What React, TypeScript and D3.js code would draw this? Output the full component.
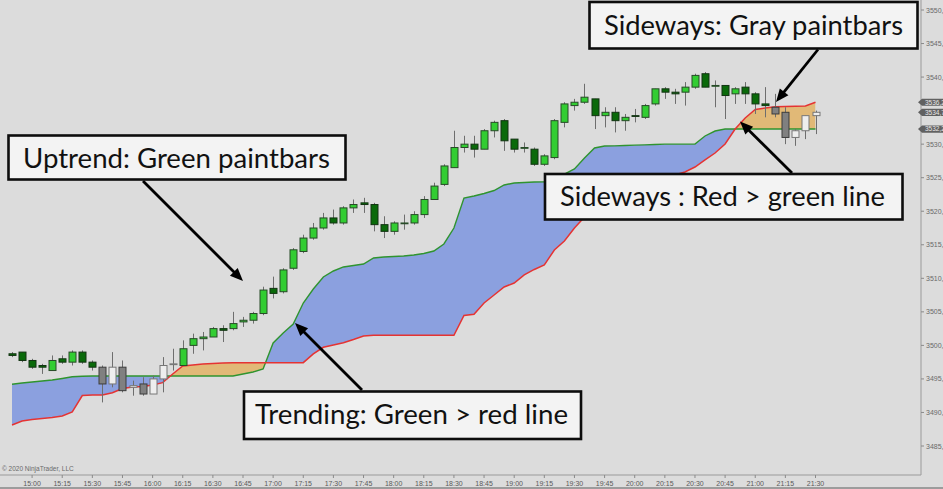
import React from "react";
import * as d3 from "d3";

const W = 943;
const H = 489;

const sessionStart = "14:50";

const barOpen = [
  3498.75, 3499.0, 3497.75, 3497.0, 3496.25, 3498.0, 3497.5, 3499.0, 3497.5, 3496.75,
  3494.25, 3496.75, 3493.75, 3494.25, 3492.75, 3495.0, 3497.25, 3497.0, 3500.0, 3501.0,
  3501.25, 3502.5, 3502.5, 3503.5, 3503.75, 3504.75, 3508.5, 3508.0, 3511.5, 3514.0,
  3516.0, 3517.5, 3519.0, 3518.25, 3520.5, 3521.25, 3521.0, 3518.0, 3517.0, 3518.25,
  3518.25, 3519.5, 3521.75, 3524.0, 3526.5, 3529.5, 3530.0, 3529.25, 3532.0, 3533.5,
  3530.75, 3529.5, 3529.25, 3527.0, 3528.0, 3533.25, 3535.75, 3536.25, 3536.75, 3534.25,
  3534.75, 3533.5, 3534.25, 3534.0, 3536.0, 3538.25, 3537.75, 3537.75, 3538.5, 3540.5,
  3538.75, 3538.75, 3537.5, 3538.5, 3537.5, 3536.0, 3535.5, 3534.75, 3531.0, 3532.0,
  3534.25,
];

const barHigh = [
  3499.0, 3499.0, 3498.0, 3497.25, 3498.5, 3498.5, 3499.25, 3499.25, 3497.75, 3497.0,
  3499.0, 3497.75, 3494.75, 3495.25, 3495.5, 3498.25, 3499.5, 3500.75, 3501.75, 3502.0,
  3502.75, 3503.0, 3505.0, 3504.25, 3505.0, 3508.75, 3510.25, 3511.5, 3514.5, 3516.5,
  3518.25, 3519.75, 3520.25, 3520.75, 3521.75, 3522.0, 3521.25, 3519.25, 3518.5, 3519.5,
  3520.0, 3522.25, 3524.25, 3527.0, 3532.0, 3531.25, 3531.25, 3532.25, 3533.5, 3533.75,
  3530.75, 3530.25, 3529.5, 3528.5, 3533.75, 3536.25, 3536.75, 3539.0, 3536.75, 3535.5,
  3535.5, 3534.5, 3535.25, 3536.0, 3538.25, 3538.5, 3538.25, 3539.25, 3540.5, 3540.75,
  3539.5, 3538.75, 3538.5, 3539.25, 3537.75, 3538.5, 3537.5, 3535.5, 3532.25, 3534.25,
  3535.0,
];

const barLow = [
  3498.25, 3497.5, 3496.5, 3495.75, 3496.25, 3497.25, 3497.0, 3497.25, 3496.25, 3491.5,
  3493.75, 3493.0, 3492.5, 3492.5, 3492.75, 3493.0, 3496.25, 3497.0, 3498.75, 3499.25,
  3501.25, 3500.5, 3502.25, 3502.75, 3503.25, 3504.5, 3507.0, 3507.75, 3511.25, 3513.75,
  3515.75, 3517.25, 3518.0, 3518.0, 3519.75, 3519.75, 3517.0, 3516.0, 3516.5, 3517.25,
  3518.0, 3519.0, 3521.75, 3523.75, 3526.5, 3528.75, 3528.0, 3529.25, 3531.0, 3529.0,
  3528.75, 3528.75, 3526.75, 3526.75, 3527.75, 3532.5, 3535.0, 3536.0, 3532.25, 3532.5,
  3531.75, 3532.0, 3533.25, 3533.75, 3535.75, 3536.75, 3536.0, 3535.75, 3538.25, 3538.5,
  3535.5, 3533.75, 3536.0, 3536.0, 3534.5, 3534.0, 3534.0, 3530.0, 3529.75, 3530.75,
  3531.5,
];

const barClose = [
  3498.5, 3497.75, 3496.75, 3496.75, 3497.75, 3497.5, 3499.0, 3497.5, 3496.75, 3494.25,
  3496.75, 3493.25, 3494.0, 3492.75, 3495.0, 3497.0, 3497.25, 3499.5, 3501.0, 3501.25,
  3502.5, 3502.25, 3503.25, 3503.75, 3504.75, 3508.25, 3507.75, 3511.25, 3514.25, 3516.0,
  3517.5, 3519.0, 3518.25, 3520.5, 3521.0, 3521.0, 3518.0, 3517.0, 3518.25, 3518.25,
  3519.5, 3521.75, 3523.75, 3526.75, 3529.5, 3530.0, 3529.25, 3532.0, 3533.25, 3530.5,
  3529.25, 3529.5, 3527.0, 3528.25, 3533.5, 3536.0, 3536.25, 3537.0, 3534.25, 3534.75,
  3533.5, 3534.0, 3534.25, 3535.75, 3538.25, 3537.75, 3537.5, 3538.5, 3540.25, 3538.5,
  3538.75, 3537.25, 3538.25, 3537.5, 3536.0, 3535.75, 3534.5, 3531.0, 3532.0, 3534.25,
  3534.75,
];

// paintbar state: up / dn = trending (green), sd / su = sideways (gray / white)
const barPaint = [
  "dn", "dn", "dn", "dn", "up", "dn", "up", "dn", "dn", "sd",
  "su", "sd", "su", "sd", "su", "su", "su", "up", "up", "up",
  "up", "dn", "up", "up", "up", "up", "dn", "up", "up", "up",
  "up", "up", "dn", "up", "up", "dn", "dn", "dn", "up", "up",
  "up", "up", "up", "up", "up", "up", "dn", "up", "up", "dn",
  "dn", "up", "dn", "up", "up", "up", "up", "up", "dn", "up",
  "dn", "up", "dn", "up", "up", "dn", "dn", "up", "up", "dn",
  "up", "dn", "up", "dn", "dn", "dn", "sd", "sd", "su", "su",
  "su",
];

const greenLine = [
  3494.2, 3494.39, 3494.54, 3494.69, 3494.84, 3495.07, 3495.33, 3495.39, 3495.44, 3495.44,
  3495.44, 3495.44, 3495.44, 3495.44, 3495.44, 3495.44, 3495.44, 3495.44, 3495.44, 3495.44,
  3495.44, 3495.44, 3495.44, 3495.74, 3496.03, 3496.48, 3500.36, 3501.85, 3503.19, 3506.32,
  3508.41, 3510.2, 3511.09, 3511.69, 3511.91, 3512.13, 3513.03, 3513.18, 3513.25, 3513.33,
  3513.48, 3513.7, 3514.07, 3515.12, 3517.5, 3521.97, 3522.27, 3522.64, 3523.09, 3523.91,
  3524.21, 3524.28, 3524.36, 3524.4, 3524.96, 3525.55, 3526.3, 3527.94, 3529.43, 3529.73,
  3529.75, 3529.8, 3529.85, 3529.9, 3529.95, 3530.0, 3530.0, 3530.0, 3530.0, 3531.22,
  3531.96, 3532.25, 3532.25, 3532.25, 3532.25, 3532.25, 3532.25, 3532.25, 3532.25, 3532.25,
  3532.25,
];

const redLine = [
  3488.13, 3488.73, 3488.95, 3489.1, 3489.25, 3489.48, 3490.07, 3492.53, 3492.61, 3492.61,
  3492.95, 3493.57, 3493.8, 3493.87, 3494.1, 3494.44, 3495.74, 3496.93, 3497.08, 3497.23,
  3497.3, 3497.38, 3497.42, 3497.42, 3497.42, 3497.42, 3497.42, 3497.42, 3497.42, 3497.42,
  3498.72, 3499.72, 3500.06, 3500.4, 3500.88, 3501.4, 3501.51, 3501.51, 3501.51, 3501.51,
  3501.51, 3501.51, 3501.51, 3501.51, 3501.51, 3504.46, 3504.64, 3506.32, 3507.51, 3508.71,
  3509.3, 3510.5, 3511.32, 3511.99, 3514.22, 3515.56, 3517.5, 3519.14, 3520.18, 3520.93,
  3521.68, 3522.42, 3523.17, 3523.76, 3524.36, 3524.96, 3525.4, 3525.85, 3526.59, 3527.64,
  3528.68, 3530.02, 3532.26, 3533.9, 3535.17, 3535.39, 3535.58, 3535.61, 3535.64, 3535.69,
  3536.25,
];

const timeTicks = [
  "15:00", "15:15", "15:30", "15:45", "16:00", "16:15", "16:30", "16:45", "17:00",
  "17:15", "17:30", "17:45", "18:00", "18:15", "18:30", "18:45", "19:00", "19:15",
  "19:30", "19:45", "20:00", "20:15", "20:30", "20:45", "21:00", "21:15", "21:30",
];

const priceTicks = [3485, 3490, 3495, 3500, 3505, 3510, 3515, 3520, 3525, 3530, 3535, 3540, 3545, 3550];

const annotationTexts = [
  "Uptrend: Green paintbars",
  "Sideways: Gray paintbars",
  "Sideways : Red > green line",
  "Trending: Green > red line",
];

// layout of the callouts (pixels)
const calloutLayout = [
  { bx: 8.5, by: 135.5, bw: 337, bh: 44, tx: 23, ty: 167.5, tl: 307, ax1: 143, ay1: 181, ax2: 243, ay2: 281 },
  { bx: 589.5, by: 2, bw: 328, bh: 46.5, tx: 604, ty: 34.5, tl: 299, ax1: 818, ay1: 49.5, ax2: 776, ay2: 102 },
  { bx: 545, by: 174, bw: 357.5, bh: 45.5, tx: 560, ty: 206, tl: 325, ax1: 792, ay1: 173, ax2: 740, ay2: 121.5 },
  { bx: 244, by: 391.5, bw: 337, bh: 47.5, tx: 255, ty: 423.5, tl: 313, ax1: 362, ay1: 390, ax2: 295, ay2: 323 },
];

const paintFill: Record<string, string> = { up: "#32cd32", dn: "#0a6a0a", sd: "#808080", su: "#eeeeee" };
const paintStroke: Record<string, string> = { up: "#274a27", dn: "#123312", sd: "#3c3c3c", su: "#777777" };

function Arrow({ x1, y1, x2, y2 }: { x1: number; y1: number; x2: number; y2: number }) {
  const a = Math.atan2(y2 - y1, x2 - x1);
  const L = 13;
  const hw = 5.5;
  const c = Math.cos(a);
  const s = Math.sin(a);
  const bx = x2 - L * c;
  const by = y2 - L * s;
  const pts = [
    [x2, y2],
    [bx + hw * s, by - hw * c],
    [bx - hw * s, by + hw * c],
  ]
    .map((p) => p.join(","))
    .join(" ");
  return (
    <g>
      <line x1={x1} y1={y1} x2={bx + 2 * c} y2={by + 2 * s} stroke="#000" strokeWidth={2.8} />
      <polygon points={pts} fill="#000" />
    </g>
  );
}

export default function App() {
  const parse = d3.timeParse("%H:%M");
  const t0 = parse(sessionStart) as Date;
  const times = barOpen.map((_, i) => d3.timeMinute.offset(t0, 5 * i));

  const x = d3.scaleTime().domain([times[0], times[times.length - 1]]).range([12, 815.5]);
  const y = d3.scaleLinear().domain([3485, 3550]).range([446, 10]);

  const fmt = (v: number) => d3.format(".2f")(v).replace(".", ",");

  const idx = d3.range(barOpen.length);

  const between = d3
    .area<number>()
    .x((i) => x(times[i]))
    .y0((i) => y(greenLine[i]))
    .y1((i) => y(redLine[i]))(idx) as string;
  const aboveRed = d3
    .area<number>()
    .x((i) => x(times[i]))
    .y0(() => 0)
    .y1((i) => y(redLine[i]))(idx) as string;
  const belowRed = d3
    .area<number>()
    .x((i) => x(times[i]))
    .y0((i) => y(redLine[i]))
    .y1(() => H)(idx) as string;
  const lineOf = (arr: number[]) =>
    d3
      .line<number>()
      .x((i) => x(times[i]))
      .y((i) => y(arr[i]))(idx) as string;

  const axisX = 921;
  const axisY = 475;
  const bodyW = 7;

  const last = barOpen.length - 1;
  const markers = [redLine[last], barClose[last], greenLine[last]];
  // tick labels hidden behind a price marker are not drawn (as in the platform)
  const visibleTicks = priceTicks.filter((v) => markers.every((m) => Math.abs(y(m) - y(v)) > 7));

  return (
    <svg
      width={W}
      height={H}
      style={{ position: "absolute", left: 0, top: 0, display: "block" }}
      fontFamily="'Liberation Sans', Arial, sans-serif"
    >
      <defs>
        <clipPath id="clipAbove">
          <path d={aboveRed} />
        </clipPath>
        <clipPath id="clipBelow">
          <path d={belowRed} />
        </clipPath>
      </defs>
      <rect x={0} y={0} width={W} height={H} fill="#dcdcdc" />

      {/* cloud */}
      <path d={between} fill="#8ba0df" clipPath="url(#clipAbove)" />
      <path d={between} fill="#e1b977" clipPath="url(#clipBelow)" />
      <path d={lineOf(greenLine)} fill="none" stroke="#2f942f" strokeWidth={1.4} />
      <path d={lineOf(redLine)} fill="none" stroke="#e53333" strokeWidth={1.5} />

      {/* candles */}
      {idx.map((i) => {
        const cx = Math.round(x(times[i])) + 0.5;
        const yo = y(barOpen[i]);
        const yc = y(barClose[i]);
        const top = Math.min(yo, yc);
        const h = Math.max(Math.abs(yo - yc), 0.8);
        const p = barPaint[i];
        return (
          <g key={i}>
            <line x1={cx} x2={cx} y1={y(barHigh[i])} y2={y(barLow[i])} stroke="#6e6e6e" strokeWidth={1} />
            <rect
              x={cx - bodyW / 2}
              y={top}
              width={bodyW}
              height={h}
              fill={paintFill[p]}
              stroke={paintStroke[p]}
              strokeWidth={1}
            />
          </g>
        );
      })}

      {/* axes */}
      <line x1={axisX} x2={axisX} y1={0} y2={axisY} stroke="#9a9a9a" strokeWidth={1} />
      <line x1={0} x2={axisX} y1={axisY} y2={axisY} stroke="#9a9a9a" strokeWidth={1} />
      {priceTicks.map((v) => (
        <line key={v} x1={axisX} x2={axisX + 3} y1={y(v)} y2={y(v)} stroke="#8a8a8a" />
      ))}
      {visibleTicks.map((v) => (
        <text key={v} x={axisX + 5} y={y(v) + 2.5} fontSize={7} fill="#6a6a6a">
          {fmt(v)}
        </text>
      ))}
      {markers.map((v, k) => (
        <g key={k}>
          <path
            d={`M${axisX - 3},${y(v)} L${axisX + 1},${y(v) - 3.6} L${W},${y(v) - 3.6} L${W},${y(v) + 3.6} L${axisX + 1},${y(v) + 3.6} Z`}
            fill="#616161"
          />
          <text x={axisX + 4} y={y(v) + 2.4} fontSize={6.5} fill="#e8e8e8">
            {fmt(v)}
          </text>
        </g>
      ))}
      {timeTicks.map((t) => {
        const tx = x(parse(t) as Date);
        return (
          <g key={t}>
            <line x1={tx} x2={tx} y1={axisY} y2={axisY + 3} stroke="#8a8a8a" />
            <text x={tx} y={485.5} fontSize={7} fill="#5a5a5a" textAnchor="middle">
              {t}
            </text>
          </g>
        );
      })}
      <text x={2} y={471} fontSize={6.5} fill="#6a6a6a">
        © 2020 NinjaTrader, LLC
      </text>
      <rect x={0} y={487} width={W} height={2} fill="#9c9c9c" />

      {/* callouts */}
      {calloutLayout.map((c, k) => (
        <g key={k}>
          <Arrow x1={c.ax1} y1={c.ay1} x2={c.ax2} y2={c.ay2} />
          <rect x={c.bx} y={c.by} width={c.bw} height={c.bh} fill="#f3f3f3" stroke="#0d0d0d" strokeWidth={2.6} />
          <text
            x={c.tx}
            y={c.ty}
            fontSize={27}
            fontFamily="Lato, 'Open Sans', sans-serif"
            fill="#111"
            textLength={c.tl}
            lengthAdjust="spacingAndGlyphs"
          >
            {annotationTexts[k]}
          </text>
        </g>
      ))}
    </svg>
  );
}
